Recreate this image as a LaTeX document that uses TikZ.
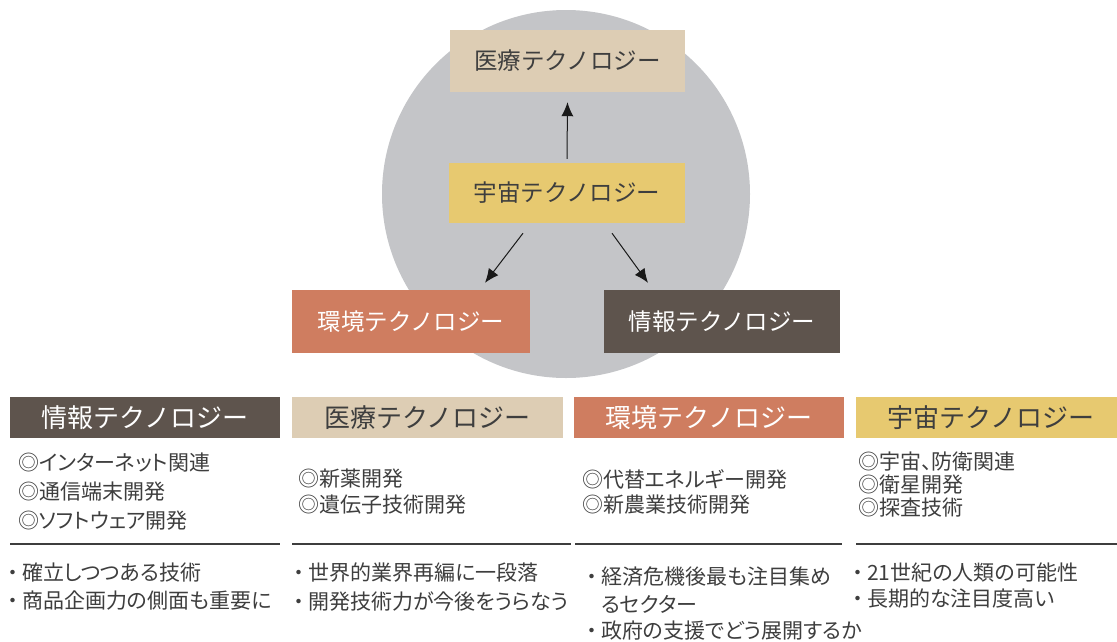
\documentclass[tikz,border=0pt]{standalone}
\usepackage{fontspec}
\setmainfont{Noto Sans CJK JP}
\newfontfamily\bodyjp[RawFeature=+palt]{Noto Sans CJK JP}
\usetikzlibrary{arrows.meta}

\definecolor{infocol}{RGB}{94,84,77}
\definecolor{medcol}{RGB}{221,205,180}
\definecolor{envcol}{RGB}{207,125,96}
\definecolor{spacecol}{RGB}{231,201,112}
\definecolor{circcol}{RGB}{196,197,200}
\definecolor{txtcol}{RGB}{62,62,62}

\newcommand\notedot{\makebox[18pt][c]{・}}
\newcommand\noteskip{\makebox[18pt]{}}

\tikzset{
  techbox/.style={inner sep=0pt, minimum width=236pt, minimum height=62pt, font=\fontsize{23.5}{28}\selectfont},
  headbox/.style={inner sep=0pt, minimum width=270pt, minimum height=41pt, font=\fontsize{26}{30}\selectfont},
  item/.style={anchor=west, inner sep=0pt, text=txtcol, font=\bodyjp\fontsize{21}{25}\selectfont},
  rule/.style={line width=1.4pt, txtcol},
  arr/.style={->, >={Latex[length=14pt,width=12pt]}, line width=1pt, black!90},
}

\begin{document}
\begin{tikzpicture}[x=1pt,y=-1pt]
\useasboundingbox (0,0) rectangle (1117,641);
\fill[white] (0,0) rectangle (1117,641);

% circle with the four technologies
\fill[circcol] (566,194) circle[radius=184pt];

\node[techbox, fill=medcol, text=txtcol, minimum width=235pt] (med) at (567.5,61) {医療テクノロジー};
\node[techbox, fill=spacecol, text=txtcol, minimum height=60pt] (space) at (567,193) {宇宙テクノロジー};
\node[techbox, fill=envcol, text=white, minimum width=238pt, minimum height=63pt] (env) at (411,321.5) {環境テクノロジー};
\node[techbox, fill=infocol, text=white, minimum height=63pt] (info) at (722,321.5) {情報テクノロジー};

\draw[arr] ([yshift=4pt]space.north) -- ([yshift=-10pt]med.south);
\draw[arr] ([xshift=-44pt,yshift=-10pt]space.south) -- ([xshift=74pt,yshift=7pt]env.north);
\draw[arr] ([xshift=45pt,yshift=-10pt]space.south) -- ([xshift=-74pt,yshift=7pt]info.north);

% table headers
\node[headbox, fill=infocol, text=white] (infohd) at (145,417.5) {情報テクノロジー};
\node[headbox, fill=medcol, text=txtcol, minimum width=271pt] (medhd) at (427.5,417.5) {医療テクノロジー};
\node[headbox, fill=envcol, text=white] (envhd) at (709,417.5) {環境テクノロジー};
\node[headbox, fill=spacecol, text=txtcol] (spacehd) at (991,417.5) {宇宙テクノロジー};

% fields
\foreach \t [count=\i] in {◎インターネット関連,◎通信端末開発,◎ソフトウェア開発}
  \node[item] (infoa\i) at (18,{463+29*(\i-1)}) {\t};
\foreach \t [count=\i] in {◎新薬開発,◎遺伝子技術開発}
  \node[item] (meda\i) at (298,{479+26*(\i-1)}) {\t};
\foreach \t [count=\i] in {◎代替エネルギー開発,◎新農業技術開発}
  \node[item] (enva\i) at (582,{479+26*(\i-1)}) {\t};
\foreach \t [count=\i] in {◎宇宙、防衛関連,◎衛星開発,◎探査技術}
  \node[item] (spacea\i) at (858,{462+23*(\i-1)}) {\t};

\draw[rule] (10,544) -- (280,544);
\draw[rule] (292,544) -- (571,544);
\draw[rule] (575,544) -- (842,544);
\draw[rule] (856,544) -- (1117,544);

% notes
\foreach \t [count=\i] in {確立しつつある技術,商品企画力の側面も重要に}
  \node[item] (infob\i) at (4,{573+28*(\i-1)}) {\notedot\t};
\foreach \t [count=\i] in {世界的業界再編に一段落,開発技術力が今後をうらなう}
  \node[item] (medb\i) at (290,{573+28*(\i-1)}) {\notedot\t};
\node[item] (envb1) at (583,577) {\notedot 経済危機後最も注目集め};
\node[item] (envb2) at (583,604) {\noteskip るセクター};
\node[item] (envb3) at (583,631) {\notedot 政府の支援でどう展開するか};
\foreach \t [count=\i] in {21世紀の人類の可能性,長期的な注目度高い}
  \node[item] (spaceb\i) at (849,{572+27*(\i-1)}) {\notedot\t};

\end{tikzpicture}
\end{document}
